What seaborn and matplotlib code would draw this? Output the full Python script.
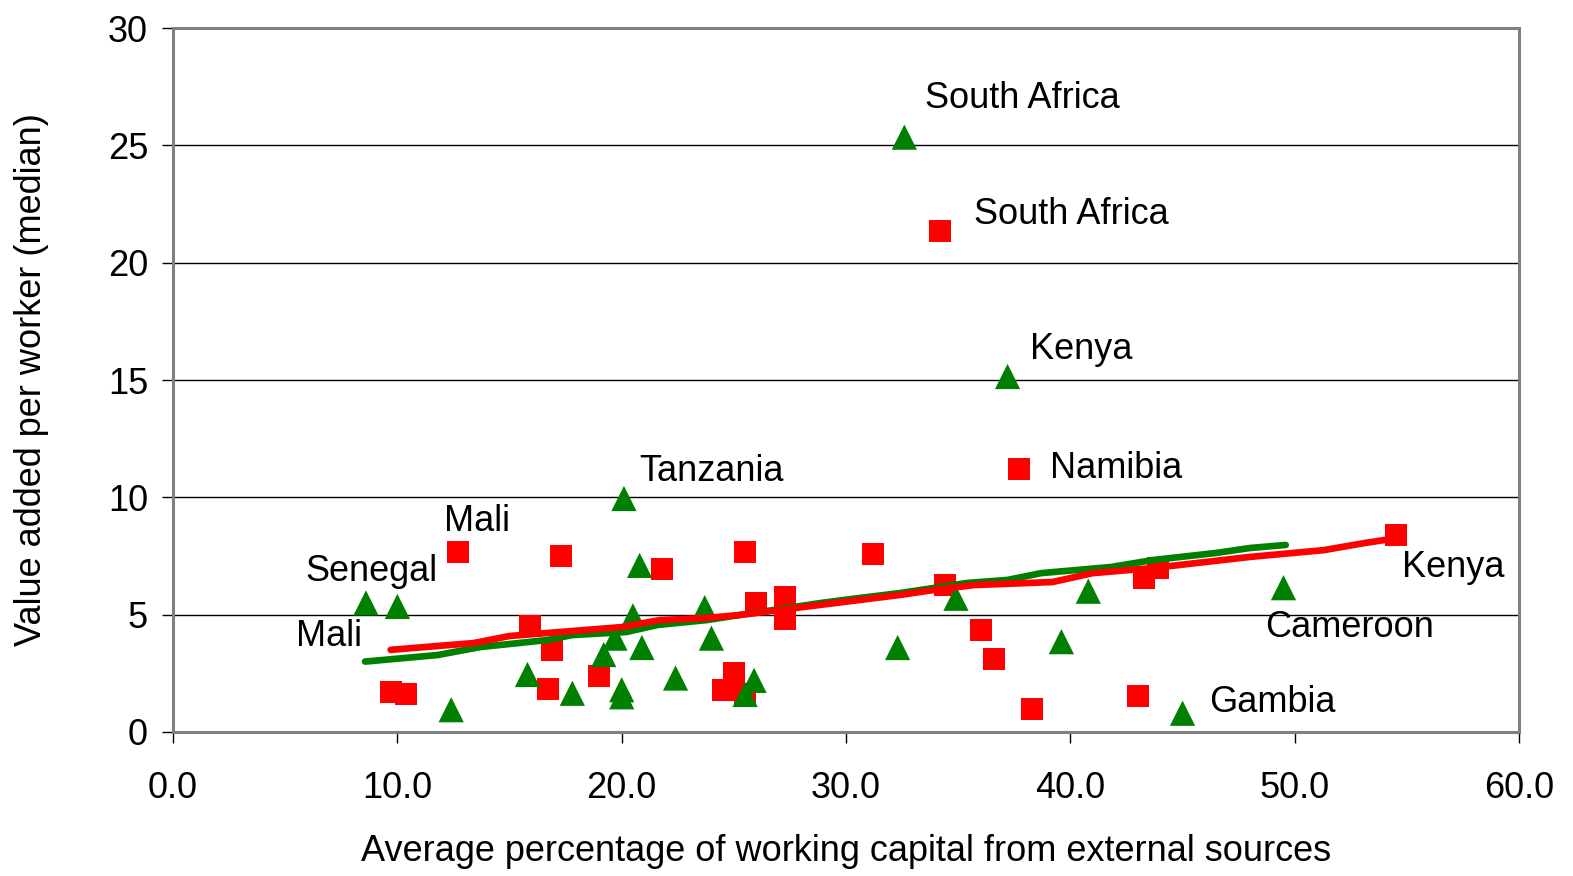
"""Value added per worker vs share of working capital from external sources."""

import matplotlib

matplotlib.use("Agg")
import matplotlib.pyplot as plt
import pandas as pd
import seaborn as sns

# green triangles
tri_x = [8.6, 10.0, 12.4, 15.8, 17.8, 19.2, 19.7, 20.1, 20.0, 20.0, 20.5, 20.8, 20.9,
         22.4, 23.7, 24.0, 25.5, 25.9, 32.6, 32.3, 34.9, 37.2, 39.6, 40.8, 45.0, 49.5]
tri_y = [5.5, 5.35, 0.95, 2.45, 1.65, 3.3, 4.0, 9.95, 1.8, 1.5, 4.95, 7.1, 3.6,
         2.3, 5.3, 4.0, 1.6, 2.2, 25.35, 3.6, 5.7, 15.15, 3.85, 6.0, 0.8, 6.15]

# red squares
sq_x = [9.7, 10.4, 12.7, 15.9, 16.9, 16.7, 17.3, 19.0, 21.8, 24.5, 25.0, 25.5, 25.5,
        26.0, 27.3, 27.3, 31.2, 34.2, 34.4, 36.0, 36.6, 37.7, 38.3, 43.0, 43.3, 43.9, 54.5]
sq_y = [1.7, 1.6, 7.65, 4.5, 3.5, 1.85, 7.5, 2.4, 6.95, 1.8, 2.5, 1.6, 7.65,
        5.5, 5.75, 4.8, 7.6, 21.35, 6.25, 4.35, 3.1, 11.2, 1.0, 1.55, 6.55, 7.0, 8.4]

# fitted lines
tri_fit_x = [8.56, 11.8, 13.7, 16.7, 17.8, 20.2, 21.6, 23.8, 25.3, 28.9, 30.6, 32.4,
             35.4, 37.2, 38.7, 41.8, 43.7, 46.5, 48.0, 49.6]
tri_fit_y = [3.0, 3.28, 3.62, 3.92, 4.13, 4.26, 4.56, 4.77, 4.99, 5.5, 5.71, 5.92,
             6.35, 6.48, 6.77, 7.03, 7.33, 7.63, 7.84, 7.97]
sq_fit_x = [9.7, 13.4, 15.0, 16.7, 20.0, 21.7, 23.8, 25.3, 28.8, 32.4, 33.9, 35.7,
            39.2, 41.0, 43.7, 48.0, 51.3, 53.1, 54.6]
sq_fit_y = [3.5, 3.79, 4.09, 4.22, 4.47, 4.77, 4.86, 4.99, 5.41, 5.84, 6.05, 6.26,
            6.39, 6.77, 6.99, 7.46, 7.75, 8.05, 8.27]

# point labels: text, x, y (left edge, vertical centre)
labels = [
    ("South Africa", 33.5, 27.0),
    ("South Africa", 35.7, 22.07),
    ("Kenya", 38.2, 16.28),
    ("Namibia", 39.1, 11.25),
    ("Tanzania", 20.8, 11.12),
    ("Mali", 12.1, 8.99),
    ("Senegal", 5.9, 6.86),
    ("Mali", 5.5, 4.09),
    ("Kenya", 54.8, 6.99),
    ("Cameroon", 48.7, 4.47),
    ("Gambia", 46.2, 1.24),
]

GREEN = "#008000"
RED = "#ff0000"
GRAY = "#808080"
FS = 26

sns.set_theme(style="white")
plt.rcParams["font.family"] = ["Liberation Sans", "DejaVu Sans"]
plt.rcParams["text.color"] = "black"
plt.rcParams["axes.labelcolor"] = "black"
plt.rcParams["xtick.color"] = "black"
plt.rcParams["ytick.color"] = "black"

tri = pd.DataFrame({"x": tri_x, "y": tri_y})
sq = pd.DataFrame({"x": sq_x, "y": sq_y})
tri_fit = pd.DataFrame({"x": tri_fit_x, "y": tri_fit_y})
sq_fit = pd.DataFrame({"x": sq_fit_x, "y": sq_fit_y})

fig = plt.figure(figsize=(15.73, 8.76), dpi=100)
ax = fig.add_axes([0.110, 0.1644, 0.8557, 0.8036])

for y in range(5, 30, 5):
    ax.axhline(y, color="black", lw=1.0, zorder=0)

sns.scatterplot(data=sq, x="x", y="y", marker="s", s=250, color=RED,
                edgecolor="none", ax=ax, zorder=3)
sns.scatterplot(data=tri, x="x", y="y", marker="^", s=330, color=GREEN,
                edgecolor="none", ax=ax, zorder=3)
sns.lineplot(data=tri_fit, x="x", y="y", sort=False, estimator=None, color=GREEN,
             lw=4.8, ax=ax, zorder=4)
sns.lineplot(data=sq_fit, x="x", y="y", sort=False, estimator=None, color=RED,
             lw=4.8, ax=ax, zorder=5)

for text, x, y in labels:
    ax.text(x, y, text, ha="left", va="center", fontsize=FS, color="black", zorder=6)

ax.set_xlim(0, 60)
ax.set_ylim(0, 30)
ax.set_xticks(range(0, 61, 10))
ax.set_xticklabels([f"{v:.1f}" for v in range(0, 61, 10)])
ax.set_yticks(range(0, 31, 5))
ax.tick_params(axis="both", labelsize=FS, length=8, width=1, color="black",
               direction="out", bottom=True, left=True)
ax.tick_params(axis="x", pad=20)
ax.tick_params(axis="y", pad=10)

ax.set_xlabel("Average percentage of working capital from external sources", fontsize=FS,
              labelpad=20)
ax.set_ylabel("Value added per worker (median)", fontsize=FS, labelpad=42)

for side in ["left", "right", "top", "bottom"]:
    ax.spines[side].set_visible(True)
    ax.spines[side].set_color(GRAY)
    ax.spines[side].set_linewidth(2.2)

fig.savefig("out.png", dpi=100)
